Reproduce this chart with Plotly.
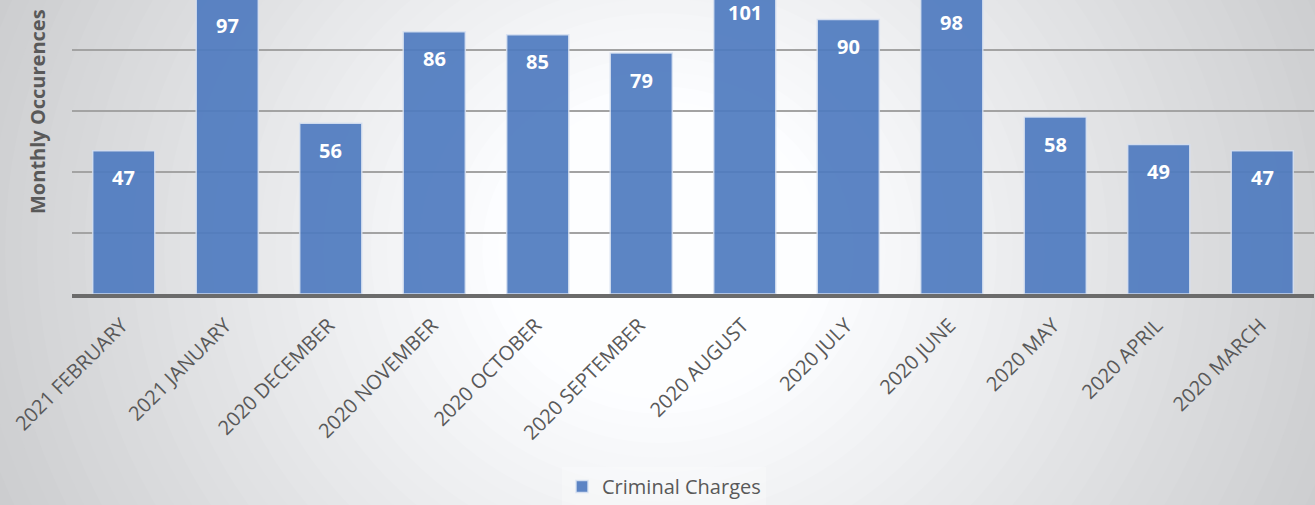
import plotly.graph_objects as go

months = ["2021 FEBRUARY", "2021 JANUARY", "2020 DECEMBER", "2020 NOVEMBER",
          "2020 OCTOBER", "2020 SEPTEMBER", "2020 AUGUST", "2020 JULY",
          "2020 JUNE", "2020 MAY", "2020 APRIL", "2020 MARCH"]
charges = [47, 97, 56, 86, 85, 79, 101, 90, 98, 58, 49, 47]
series_name = "Criminal Charges"
y_title = "Monthly Occurences"

W, H = 1315, 505
ML, MR, MT, MB = 72, 1, 0, 211
PW, PH = W - ML - MR, H - MT - MB
YMAX = 294 / 3.05
LABEL_DROP = 27 * YMAX / PH  # label offset below bar top, in data units


def px2paper(x, y):
    return (x - ML) / PW, (H - MB - y) / PH


fig = go.Figure()
fig.add_trace(go.Bar(
    x=months, y=charges, name=series_name,
    marker=dict(color="#4F7BC0", line=dict(color="rgba(215,225,242,0.9)", width=1.5)),
    opacity=0.92, width=0.6,
))

# value labels inside bar tops
for m, v in zip(months, charges):
    fig.add_annotation(x=m, y=v - LABEL_DROP, text=f"<b>{v}</b>", showarrow=False,
                       yanchor="middle",
                       font=dict(family="Open Sans", size=20, color="white"))

# radial gradient background
cx, cy, rx, ry = 660, 250, 760, 700
N = 44
shapes = []
for i in range(N):
    r = 1.05 - i * (1.05 - 0.15) / (N - 1)
    t = max(0.0, min(1.0, (r - 0.22) / 0.78))
    c = 255 - t * 52
    col = f"rgb({int(c-2)},{int(c-1)},{min(255, int(c+1))})"
    x0, y0 = px2paper(cx - rx * r, cy + ry * r)
    x1, y1 = px2paper(cx + rx * r, cy - ry * r)
    shapes.append(dict(type="circle", xref="paper", yref="paper",
                       x0=x0, x1=x1, y0=y0, y1=y1, layer="below",
                       fillcolor=col, line=dict(width=0)))

tx, ty = px2paper(37, 112)
fig.add_annotation(x=tx, y=ty, xref="paper", yref="paper", text=f"<b>{y_title}</b>",
                   textangle=-90, showarrow=False, xanchor="center", yanchor="middle",
                   font=dict(family="Open Sans", size=20, color="#595959"))

lx, ly = px2paper(664, 467)
fig.update_layout(
    width=W, height=H,
    margin=dict(l=ML, r=MR, t=MT, b=MB, autoexpand=False),
    paper_bgcolor="rgb(199,200,202)",
    plot_bgcolor="rgba(0,0,0,0)",
    shapes=shapes,
    bargap=0.4,
    showlegend=True,
    legend=dict(orientation="h", x=lx, y=ly, xanchor="center", yanchor="top",
                bgcolor="rgba(255,255,255,0.25)",
                font=dict(family="Open Sans", size=20, color="#595959")),
    xaxis=dict(showline=True, linecolor="#6B6B6B", linewidth=3.5,
               tickangle=-45, ticks="", ticklabelshift=-2, ticklabelstandoff=8,
               automargin=False,
               tickfont=dict(family="Open Sans", size=20, color="#595959"),
               showgrid=False),
    yaxis=dict(range=[0, YMAX], dtick=20, showgrid=True, automargin=False,
               gridcolor="#A3A3A3", gridwidth=1.5, zeroline=False,
               showticklabels=False, ticks=""),
)

fig.write_html("out.html", config={"displayModeBar": False},
               post_script="document.body.style.margin='0';")
